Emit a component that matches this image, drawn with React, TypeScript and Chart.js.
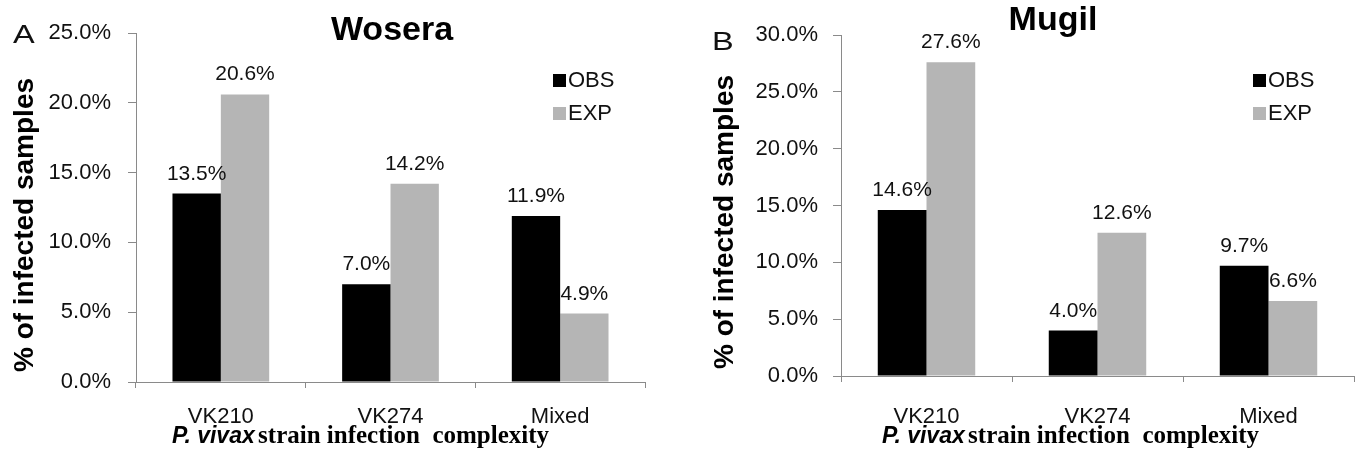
import React, { useEffect, useRef } from 'react';
import { Chart, registerables } from 'chart.js';
Chart.register(...registerables);

const categories = ['VK210', 'VK274', 'Mixed'];
const seriesNames = ['OBS', 'EXP'];
const woseraObs = [13.5, 7.0, 11.9];
const woseraExp = [20.6, 14.2, 4.9];
const mugilObs = [14.6, 4.0, 9.7];
const mugilExp = [27.6, 12.6, 6.6];
const woseraTicks = [0, 5, 10, 15, 20, 25];
const mugilTicks = [0, 5, 10, 15, 20, 25, 30];
const yTitle = '% of infected samples';
const xTitleItalic = 'P. vivax ';
const xTitleRest = 'strain infection  complexity';

const SANS = '"Liberation Sans", Arial, sans-serif';
const SERIF = '"Liberation Serif", "Times New Roman", serif';
const H = 455;
const AXIS = '#8a8a8a';
const COLORS = ['#000000', '#b5b5b5'];

type Panel = {
  w: number; title: string; letter: string; obs: number[]; exp: number[]; ticks: number[];
  padRight: number; top: number; bottom: number; yWidth: number; tickPad: number; labelPad: number;
  titleX: number; titleY: number; letterX: number; letterY: number; yTitleX: number; yTitleY: number;
  xTitleX: number; xTitleY: number; legendX: number; legendY: number;
};

const panels: Panel[] = [
  {
    w: 680, title: 'Wosera', letter: 'A', obs: woseraObs, exp: woseraExp, ticks: woseraTicks,
    padRight: 35, top: 33, bottom: 382, yWidth: 136, tickPad: 17, labelPad: 16,
    titleX: 392, titleY: 40, letterX: 13, letterY: 43, yTitleX: 25, yTitleY: 225,
    xTitleX: 172, xTitleY: 443, legendX: 553, legendY: 74,
  },
  {
    w: 681, title: 'Mugil', letter: 'B', obs: mugilObs, exp: mugilExp, ticks: mugilTicks,
    padRight: 7, top: 35, bottom: 376, yWidth: 161, tickPad: 15, labelPad: 22,
    titleX: 373, titleY: 30, letterX: 32, letterY: 50, yTitleX: 45, yTitleY: 222,
    xTitleX: 202, xTitleY: 443, legendX: 573, legendY: 74,
  },
];

const decoPlugin = {
  id: 'deco',
  afterDraw(chart: any, _args: any, opts: any) {
    const p: Panel = opts.panel;
    const ctx = chart.ctx;
    ctx.save();
    // value labels
    ctx.fillStyle = '#111';
    ctx.font = `21px ${SANS}`;
    ctx.textAlign = 'center';
    ctx.textBaseline = 'alphabetic';
    chart.data.datasets.forEach((ds: any, di: number) => {
      const meta = chart.getDatasetMeta(di);
      meta.data.forEach((el: any, i: number) => {
        ctx.fillText(Number(ds.data[i]).toFixed(1) + '%', el.x, el.y - 14);
      });
    });
    // title
    ctx.fillStyle = '#000';
    ctx.font = `bold 34px ${SANS}`;
    ctx.fillText(p.title, p.titleX, p.titleY);
    // panel letter
    ctx.save();
    ctx.translate(p.letterX, p.letterY);
    ctx.scale(1.3, 1);
    ctx.font = `25px ${SANS}`;
    ctx.textAlign = 'left';
    ctx.fillStyle = '#111';
    ctx.fillText(p.letter, 0, 0);
    ctx.restore();
    // y title
    ctx.save();
    ctx.translate(p.yTitleX, p.yTitleY);
    ctx.rotate(-Math.PI / 2);
    ctx.font = `bold 28px ${SANS}`;
    ctx.textAlign = 'center';
    ctx.textBaseline = 'middle';
    ctx.fillStyle = '#000';
    ctx.fillText(yTitle, 0, 0);
    ctx.restore();
    // x title
    ctx.textAlign = 'left';
    ctx.fillStyle = '#000';
    ctx.font = `italic bold 23px ${SANS}`;
    const w1 = ctx.measureText(xTitleItalic).width;
    ctx.fillText(xTitleItalic, p.xTitleX, p.xTitleY);
    ctx.font = `bold 25px ${SERIF}`;
    ctx.fillText(xTitleRest, p.xTitleX + w1 - 3, p.xTitleY);
    // legend
    ctx.font = `22px ${SANS}`;
    ctx.textBaseline = 'middle';
    chart.data.datasets.forEach((ds: any, di: number) => {
      const y = p.legendY + di * 33;
      ctx.fillStyle = ds.backgroundColor;
      ctx.fillRect(p.legendX, y, 13, 13);
      ctx.fillStyle = '#111';
      ctx.fillText(ds.label, p.legendX + 15, y + 7);
    });
    ctx.restore();
  },
};

function PanelChart({ p }: { p: Panel }) {
  const ref = useRef<HTMLCanvasElement | null>(null);
  useEffect(() => {
    if (!ref.current) return;
    const chart = new Chart(ref.current, {
      type: 'bar',
      data: {
        labels: categories,
        datasets: [
          { label: seriesNames[0], data: p.obs, backgroundColor: COLORS[0], categoryPercentage: 0.57, barPercentage: 1.0 },
          { label: seriesNames[1], data: p.exp, backgroundColor: COLORS[1], categoryPercentage: 0.57, barPercentage: 1.0 },
        ],
      },
      options: {
        responsive: false,
        animation: false,
        devicePixelRatio: 1,
        layout: { padding: { top: p.top, right: p.padRight, left: 0, bottom: 0 } },
        plugins: {
          legend: { display: false },
          tooltip: { enabled: false },
          title: { display: false },
          deco: { panel: p },
        } as any,
        scales: {
          x: {
            offset: true,
            grid: { display: true, drawOnChartArea: false, drawTicks: true, tickLength: 6, color: AXIS, offset: true },
            border: { color: AXIS, width: 1 },
            ticks: { font: { family: SANS, size: 22 }, color: '#111', padding: p.labelPad, maxRotation: 0 },
            afterFit: (s: any) => { s.height = H - p.bottom; },
          },
          y: {
            min: 0,
            max: p.ticks[p.ticks.length - 1],
            grid: { drawOnChartArea: false, drawTicks: true, tickLength: 8, color: AXIS },
            border: { color: AXIS, width: 1 },
            ticks: {
              font: { family: SANS, size: 22 },
              color: '#111',
              padding: p.tickPad,
              callback: (v: any) => Number(v).toFixed(1) + '%',
            },
            afterBuildTicks: (s: any) => { s.ticks = p.ticks.map((v) => ({ value: v })); },
            afterFit: (s: any) => { s.width = p.yWidth; },
          },
        },
      },
      plugins: [decoPlugin],
    } as any);
    return () => chart.destroy();
  }, [p]);
  return <canvas ref={ref} width={p.w} height={H} style={{ display: 'block', width: p.w, height: H }} />;
}

export default function App() {
  return (
    <div style={{ position: 'absolute', left: 0, top: 0, width: 1361, height: H, display: 'flex', background: '#fff' }}>
      {panels.map((p) => <PanelChart key={p.title} p={p} />)}
    </div>
  );
}
